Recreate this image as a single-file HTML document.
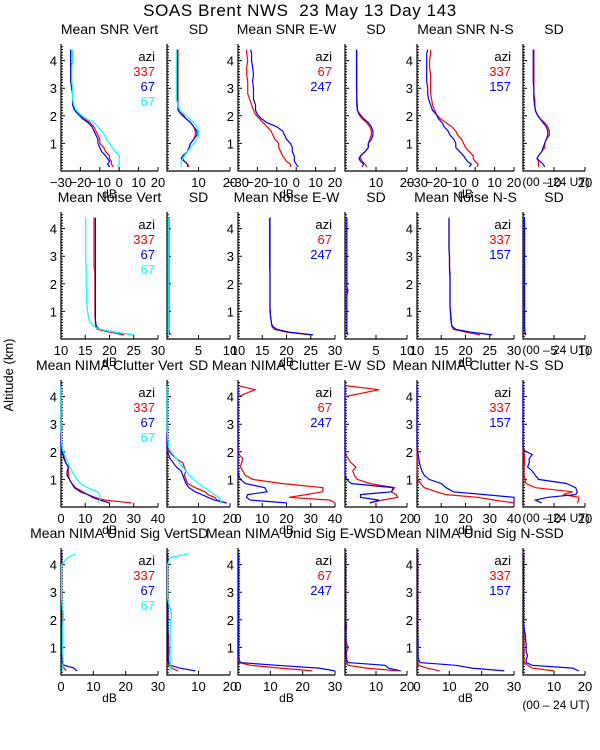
<!DOCTYPE html>
<html><head><meta charset="utf-8"><style>
html,body{margin:0;padding:0;background:#fff;}
svg{display:block;font-family:"Liberation Sans",sans-serif;}
</style></head><body>
<svg id="chart" width="600" height="750" viewBox="0 0 600 750" xmlns="http://www.w3.org/2000/svg">
<text x="300" y="16" font-size="17" letter-spacing="0.6" text-anchor="middle" xml:space="preserve">SOAS Brent NWS  23 May 13 Day 143</text>
<text transform="translate(13,375) rotate(-90)" font-size="13" text-anchor="middle">Altitude (km)</text>
<text x="556" y="709" font-size="12" text-anchor="middle">(00 – 24 UT)</text>
<g id="plots"></g>
</svg>
<script>
const alts=[0.15,0.25,0.35,0.45,0.55,0.7,0.85,1.0,1.15,1.3,1.45,1.6,1.75,1.9,2.05,2.2,2.4,2.6,2.8,3.0,3.25,3.5,3.75,4.0,4.25,4.4];
const rowTitles=[["Mean SNR Vert","SD","Mean SNR E-W","SD","Mean SNR N-S","SD"],
["Mean Noise Vert","SD","Mean Noise E-W","SD","Mean Noise N-S","SD"],
["Mean NIMA Clutter Vert","SD","Mean NIMA Clutter E-W","SD","Mean NIMA Clutter N-S","SD"],
["Mean NIMA Unid Sig Vert","SD","Mean NIMA Unid Sig E-W","SD","Mean NIMA Unid Sig N-S","SD"]];
const meanRanges=[[-30,20],[10,30],[0,40],[0,30]];
const sdRanges=[[0,20],[0,10],[0,20],[0,20]];
const meanTicks=[[-30,-20,-10,0,10,20],[10,15,20,25,30],[0,10,20,30,40],[0,10,20,30]];
const sdTicks=[[10,20],[5,10],[10,20],[10,20]];
const legendVert=["337","67","67"], legendEW=["67","247"], legendNS=["337","157"];
// Row 1 SNR
const snrVertRed=[-3,-4,-4,-5,-5,-7,-8,-10,-10,-11,-12,-13,-15,-18,-21,-23,-24,-24,-24,-24.5,-25,-25,-25,-25,-25,-25];
const snrVertBlue=[-5,-6,-5,-6,-7,-9,-10,-11,-11,-12,-13,-14,-16,-19,-21,-23,-24,-24,-24,-24.5,-25,-25,-25,-25,-25,-25];
const snrVertCyan=[-0.5,0,0,0,0,-2,-3.5,-5,-6.5,-7.5,-9,-11,-13,-17,-20,-22,-23.5,-24,-24,-24,-24.5,-24.5,-24.5,-24,-24,-24];
const snrVertSdRed=[7,6.5,5.5,5,5.5,6.5,7,7.5,8.5,9,9,8.5,7.5,6,5,4,3.5,3.5,3.5,3.5,3.5,3.5,3.5,3.5,3.5,3.5];
const snrVertSdBlue=[6.5,6.5,5.5,4.5,5,6.5,7,7.5,8.5,9.5,9.5,8.5,7.5,6,4.5,3.5,3.5,3.3,3.3,3.3,3.3,3.3,3.3,3.3,3.2,3.2];
const snrVertSdCyan=[4.5,4.5,4.5,5,5.5,6.5,7.5,8.5,9.5,10,10,9.5,8.5,7,5.5,4,3.5,3,3,3,3,3,3,3,3,3];
const snrEwRed=[-3,-3,-5,-6,-7,-8,-9,-9,-11,-12,-13,-15,-17,-19,-21,-22,-23,-24,-25,-25,-25,-25.5,-25.5,-25,-25.5,-25.5];
const snrEwBlue=[1,0,-1,-1,-1,-2,-2,-3,-5,-6,-7,-10,-15,-18,-20,-21,-21,-22,-22,-22,-22.5,-22,-22.5,-23,-23,-23.5];
const snrEwSdRed=[7,6.5,5.5,5,5,6.5,7.5,7.5,8,8.5,8.5,8,7,5.5,4.5,4,4,3.8,3.8,3.8,3.8,3.8,3.8,3.8,3.8,3.8];
const snrEwSdBlue=[5.5,6,5,4.5,5,6.5,7.5,7.5,8.5,9,9,8.5,7.5,6,4.8,4,3.8,3.8,3.8,3.7,3.7,3.7,3.7,3.7,3.7,3.7];
const snrNsRed=[1,1.5,0,-1,-1,-3,-5,-6,-7,-9,-10,-12,-15,-18,-20,-21,-22,-22.5,-23,-23,-23,-23,-23.5,-23.5,-23,-23];
const snrNsBlue=[-3,-2,-4,-5,-6,-8,-10,-10,-11,-13,-14,-16,-17,-19,-20,-22,-23,-24,-24.5,-24.5,-25,-25,-25,-25,-25,-24.5];
const snrNsSdRed=[5,5,5,4.5,5,6,7,7,7.5,8.5,8.5,8,7,5.5,4.5,4,3.8,3.8,3.5,3.5,3.5,3.5,3.5,3.5,3.5,3.5];
const snrNsSdBlue=[7,6.5,5.5,4.5,5,6,6.5,7,7.5,8,8,7.5,6.5,5.5,4.5,4,3.7,3.5,3.5,3.5,3.3,3.3,3.3,3.3,3.3,3.3];
// Row 2 Noise
const noiseVertRed=[23,20,17.5,17.2,17.1,17.1,17,17,17,17,17,17,17,17,17,17,17,16.8,16.8,16.8,16.8,16.8,16.8,16.8,16.8,16.8];
const noiseVertBlue=[25,21,18,17.3,17.2,17.1,17.1,17.1,17.1,17.1,17.1,17.1,17.1,17.1,17.1,17.1,17.1,17.1,17.1,17.1,17.1,17.1,17.1,17.1,17.1,17.1];
const noiseVertCyan=[25,21,18,16.8,16.3,15.8,15.6,15.5,15.4,15.3,15.3,15.3,15.3,15.2,15.2,15.2,15.2,15.2,15.1,15.1,15.1,15.1,15.1,15.1,15.1,15.1];
const noiseVertSdRed=[0.6,0.3,0.3,0.3,0.3,0.3,0.3,0.3,0.3,0.3,0.3,0.3,0.3,0.3,0.3,0.3,0.3,0.3,0.3,0.3,0.3,0.3,0.3,0.3,0.3,0.3];
const noiseVertSdBlue=[0.4,0.3,0.25,0.25,0.25,0.25,0.25,0.25,0.25,0.25,0.25,0.25,0.25,0.25,0.25,0.25,0.25,0.25,0.25,0.25,0.25,0.25,0.25,0.25,0.25,0.25];
const noiseVertSdCyan=[0.3,0.2,0.2,0.2,0.2,0.2,0.2,0.2,0.2,0.2,0.2,0.2,0.2,0.2,0.2,0.2,0.2,0.2,0.2,0.2,0.2,0.2,0.2,0.2,0.2,0.2];
const noiseEwRed=[25,20,17.5,17,16.9,16.8,16.7,16.7,16.6,16.6,16.6,16.6,16.6,16.6,16.6,16.6,16.6,16.5,16.5,16.5,16.5,16.5,16.5,16.5,16.5,16.5];
const noiseEwBlue=[25.5,20.5,18,17.2,16.9,16.8,16.7,16.6,16.6,16.6,16.6,16.6,16.6,16.6,16.6,16.6,16.6,16.6,16.6,16.6,16.6,16.6,16.6,16.6,16.6,16.6];
const noiseEwSdRed=[0.4,0.3,0.3,0.3,0.3,0.3,0.3,0.3,0.3,0.3,0.3,0.3,0.5,0.3,0.3,0.3,0.3,0.3,0.3,0.3,0.3,0.3,0.3,0.3,0.3,0.3];
const noiseEwSdBlue=[0.5,0.3,0.3,0.3,0.3,0.3,0.3,0.3,0.3,0.3,0.3,0.3,0.3,0.3,0.3,0.3,0.3,0.3,0.3,0.3,0.3,0.3,0.3,0.3,0.3,0.3];
const noiseNsRed=[23,20,17.5,17.2,17.1,17.1,17,16.9,16.8,16.8,16.8,16.8,16.8,16.8,16.8,16.8,16.7,16.7,16.7,16.7,16.6,16.6,16.6,16.6,16.6,16.6];
const noiseNsBlue=[25.5,21,18,17.3,17.1,17,16.9,16.9,16.8,16.8,16.8,16.8,16.8,16.8,16.8,16.8,16.8,16.7,16.7,16.7,16.6,16.6,16.6,16.6,16.6,16.6];
const noiseNsSdRed=[0.5,0.3,0.3,0.25,0.25,0.25,0.25,0.25,0.25,0.25,0.25,0.25,0.25,0.25,0.25,0.25,0.25,0.25,0.25,0.25,0.25,0.25,0.25,0.25,0.25,0.25];
const noiseNsSdBlue=[0.4,0.3,0.25,0.25,0.25,0.25,0.25,0.25,0.25,0.25,0.25,0.25,0.25,0.25,0.25,0.25,0.25,0.25,0.25,0.25,0.25,0.25,0.25,0.25,0.25,0.25];
// Row 3 Clutter
const clutVertRed=[29,18,14,11,9,6,4.5,3.5,3,3,3,2,1.5,1,0.3,0,0,0,0,0,0,0,0,0,0,0];
const clutVertBlue=[20,16,13,11,8,5.5,4.5,3.5,2.5,2.5,3,2,1.2,0.8,0.2,0,0,0,0,0,0,0,0,0,0,0];
const clutVertCyan=[15,16,16,16,15,11,8,6.5,5.5,4.5,3.5,3,2.2,1.5,0.8,0.4,0.2,0.2,0,0,0,0,0,0,0,0];
const clutVertSdRed=[18.5,16,15,13,12,9,6.5,6,5.5,6,5.5,5,3,1.5,0.5,0,0,0,0,0,0,0,0,0,0,0];
const clutVertSdBlue=[19,15,13,11,9,7,6,5.5,5,4.5,3,2,1,0.5,0,0,0,0,0,0,0,0,0,0,0,0];
const clutVertSdCyan=[17,17,16.5,15,14,12,10,8.5,7,6,5,4,3,2,1,0.5,0.3,0.2,0,0,0,0,0,0,0,0];
const clutEwRed=[40,38,21,28,35,35,18,6,3,2,1,1.5,2,0.5,0,0,0,0,0,0,0,0,0,0,7,0];
const clutEwBlue=[20,5,3.5,4,12,11,3,1,0.3,0,0,0,0,0,0,0,0,0,0,0,0,0,0,0,0,0];
const clutEwSdRed=[8,12,17,16.5,15,16,8,4,3,2.5,3.5,2,1,0.3,0,0,0,0,0,0,0,0,0,0,11,0];
const clutEwSdBlue=[8,11,5,5,15,15.5,2,0.5,0,0,0,0,0,0,0,0,0,0,0,0,0,0,0,0,0,0];
const clutNsRed=[40,32,25,12,8,3,1.5,0.3,0.2,0.1,0.1,0.1,0.1,0.1,0,0,0,0,0,0,0,0,0,0,0,0];
const clutNsBlue=[40,40,40,28,15,12,10,5,3,2,1.5,1,0.8,0.5,0.2,0,0,0,0,0,0,0,0,0,0,0];
const clutNsSdRed=[17.5,18,18,13,16,4,1,0.5,0.3,0.3,0.3,0.5,0.5,0.5,0,0,0,0,0,0,0,0,0,0,0,0];
const clutNsSdBlue=[6,4,8,17,17.5,17,14,5,4,3,1.5,2,2,3,0.3,0,0,0,0,0,0,0,0,0,0,0];
// Row 4 Unidentified signal
const unidVertRed=[1.5,1,0.2,0.2,0.2,0.2,0.2,0.2,0.2,0.2,0.2,0.2,0.2,0.2,0.2,0.2,0.2,0.2,0.2,0.2,0.2,0.2,0.2,0.2,0.2,0.2];
const unidVertBlue=[5,4,1,0.3,0.2,0.2,0.2,0.2,0.2,0.2,0.2,0.2,0.2,0.2,0.2,0.2,0.2,0.2,0.2,0.2,0.2,0.2,0.2,0.2,0.2,0.2];
const unidVertCyan=[0.5,0.5,0.6,0.7,0.7,0.6,0.5,0.5,0.5,0.5,0.5,0.5,0.5,0.6,0.7,0.8,0.5,0.3,0.2,0.2,0.2,0.2,0.2,0.2,2,4.5];
const unidVertSdRed=[3.5,1.5,0.5,0.5,0.5,0.5,0.7,0.5,0.5,0.5,0.5,0.3,0.3,0.3,0.3,0.3,0.3,0.5,0.2,0.2,0.2,0.2,0.2,0.2,0.2,0.2];
const unidVertSdBlue=[9,4,1,0.5,0.3,0.3,0.3,0.3,0.3,0.3,0.3,0.3,0.3,0.3,0.3,0.3,0.3,0.3,0.2,0.2,0.2,0.2,0.2,0.2,0.2,0.2];
const unidVertSdCyan=[1,1,1,1,1,1,1,1,1,1,1,1,1,1,1.3,1.5,1,0.5,0.2,0.2,0.2,0.2,0.2,0.2,1,7];
const unidEwRed=[23,13,4,0.3,0.2,0.2,0.2,0.2,0.2,0.2,0.2,0.2,0.2,0.2,0.2,0.2,0.2,0.2,0.2,0.2,0.2,0.2,0.2,0.2,0.2,0.2];
const unidEwBlue=[30,25,12,0.8,0.3,0.2,0.2,0.2,0.2,0.2,0.2,0.2,0.2,0.2,0.2,0.2,0.2,0.2,0.2,0.2,0.2,0.2,0.2,0.2,0.2,0.2];
const unidEwSdRed=[17,7,1,0.5,0.5,0.5,0.5,1,0.5,0.3,0.3,0.3,0.5,0.3,0.2,0.2,0.2,0.2,0.2,0.2,0.2,0.2,0.2,0.2,0.2,0.2];
const unidEwSdBlue=[18,14,13,1,0.5,0.3,0.3,0.3,0.3,0.3,0.3,0.3,0.3,0.3,0.2,0.2,0.2,0.2,0.2,0.2,0.2,0.2,0.2,0.2,0.2,0.2];
const unidNsRed=[7,3,0.5,0.3,0.2,0.2,0.2,0.2,0.2,0.2,0.2,0.2,0.2,0.2,0.2,0.2,0.2,0.2,0.2,0.2,0.2,0.2,0.2,0.2,0.2,0.2];
const unidNsBlue=[27,17,12,1,0.5,0.3,0.3,0.3,0.3,0.3,0.2,0.2,0.2,0.2,0.2,0.2,0.2,0.2,0.2,0.2,0.2,0.2,0.2,0.2,0.2,0.2];
const unidNsSdRed=[10,3,1.5,0.3,0.3,0.3,0.3,0.3,0.3,0.3,0.3,0.3,0.2,0.2,0.2,0.2,0.2,0.2,0.2,0.2,0.2,0.2,0.2,0.2,0.2,0.2];
const unidNsSdBlue=[18,16,3,1,1,1.5,1,1,1,0.8,0.8,0.5,0.3,0.2,0.2,0.2,0.2,0.2,0.2,0.2,0.2,0.2,0.2,0.2,0.2,0.2];

const RED="#ff0000",BLUE="#0000ff",CYAN="#00ffff";
const rowsData=[
 [[snrVertRed,snrVertBlue,snrVertCyan],[snrVertSdRed,snrVertSdBlue,snrVertSdCyan],[snrEwRed,snrEwBlue],[snrEwSdRed,snrEwSdBlue],[snrNsRed,snrNsBlue],[snrNsSdRed,snrNsSdBlue]],
 [[noiseVertRed,noiseVertBlue,noiseVertCyan],[noiseVertSdRed,noiseVertSdBlue,noiseVertSdCyan],[noiseEwRed,noiseEwBlue],[noiseEwSdRed,noiseEwSdBlue],[noiseNsRed,noiseNsBlue],[noiseNsSdRed,noiseNsSdBlue]],
 [[clutVertRed,clutVertBlue,clutVertCyan],[clutVertSdRed,clutVertSdBlue,clutVertSdCyan],[clutEwRed,clutEwBlue],[clutEwSdRed,clutEwSdBlue],[clutNsRed,clutNsBlue],[clutNsSdRed,clutNsSdBlue]],
 [[unidVertRed,unidVertBlue,unidVertCyan],[unidVertSdRed,unidVertSdBlue,unidVertSdCyan],[unidEwRed,unidEwBlue],[unidEwSdRed,unidEwSdBlue],[unidNsRed,unidNsBlue],[unidNsSdRed,unidNsSdBlue]]];
const colours=[RED,BLUE,CYAN];

const NS="http://www.w3.org/2000/svg";
const root=document.getElementById('plots');
function mk(tag,attrs,parent){const e=document.createElementNS(NS,tag);for(const k in attrs)e.setAttribute(k,attrs[k]);(parent||root).appendChild(e);return e;}
const colX=[[61,158],[167,230],[238,335],[345,407],[417,514],[523,585]];
const rowBase=[171,339,507,675];
const KM=27.6;
function yScale(r,a){return rowBase[r]-a*KM;}
function xScale(c,range,v){const[x0,x1]=colX[c];return x0+(v-range[0])/(range[1]-range[0])*(x1-x0);}
const dirNames=["vert","ew","ns"],rowNames=["snr","noise","clutter","unid-sig"];

for(let r=0;r<4;r++){
 for(let c=0;c<6;c++){
  const isSd=c%2===1;
  const range=isSd?sdRanges[r]:meanRanges[r];
  const[x0,x1]=colX[c];const yb=rowBase[r];const yt=yb-127;
  const g=mk('g',{});
  
  
  const t=mk('text',{x:(x0+x1)/2,y:yb-137,'font-size':14,'text-anchor':'middle'},g);
  t.textContent=rowTitles[r][c];
  
  
  const ax=mk('path',{d:`M${x0},${yt}V${yb}H${x1}`,stroke:'#000',fill:'none','stroke-width':1.2},g);
  
  
  let d='';
  for(let k=1;k<=45;k++){const a=k/10;const y=yScale(r,a);d+=`M${x0},${y}h${k%10===0?4:2}`;}
  mk('path',{d:d,stroke:'#000','stroke-width':1},g);
  if(!isSd){
   for(let k=1;k<=4;k++){const yl=mk('text',{x:x0-4,y:yScale(r,k)+5,'font-size':13,'text-anchor':'end'},g);yl.textContent=k;
    
    }
  }
  const ticks=isSd?sdTicks[r]:meanTicks[r];
  let dx='';
  ticks.forEach(v=>{const x=xScale(c,range,v);dx+=`M${x},${yb}v-4`;
   const tl=mk('text',{x:x,y:yb+16,'font-size':13,'text-anchor':'middle'},g);tl.textContent=v<0?'−'+(-v):v;
   
   });
  mk('path',{d:dx,stroke:'#000'},g);
  if(!isSd){const db=mk('text',{x:(x0+x1)/2,y:yb+27,'font-size':12,'text-anchor':'middle'},g);db.textContent='dB';
   
   }
  rowsData[r][c].forEach((vals,i)=>{
   let pd='';
   vals.forEach((v,j)=>{const vv=Math.max(range[0],Math.min(range[1],v));pd+=(j?'L':'M')+xScale(c,range,vv).toFixed(1)+','+yScale(r,alts[j]).toFixed(1);});
   const p=mk('path',{d:pd,stroke:colours[i],fill:'none','stroke-width':1.2},g);
   
   
  });
  if(!isSd){
   const leg=c===0?legendVert:c===2?legendEW:legendNS;
   const lt=mk('text',{x:x1-3,y:yt+17,'font-size':13,'text-anchor':'end'},g);lt.textContent='azi';
   
   
   leg.forEach((s,i)=>{const le=mk('text',{x:x1-3,y:yt+32+i*15,'font-size':13,'text-anchor':'end',fill:colours[i]},g);le.textContent=s;
    
    });
  }
 }
 if(r<3){const n=mk('text',{x:556,y:rowBase[r]+15,'font-size':12,'text-anchor':'middle'});n.textContent='(00 – 24 UT)';
  
  }
}
</script>
</body></html>
